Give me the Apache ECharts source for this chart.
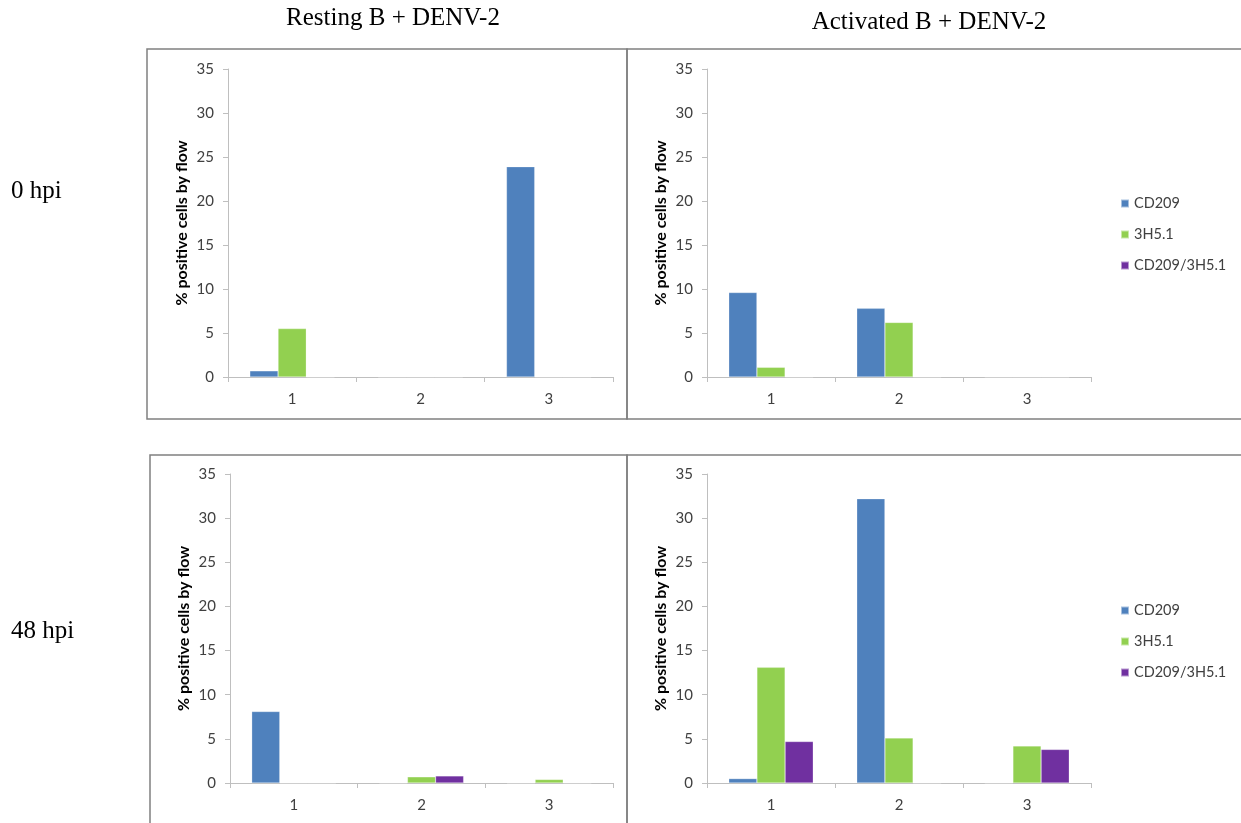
<!DOCTYPE html>
<html>
<head>
<meta charset="utf-8">
<title>CD209 / 3H5.1 flow</title>
<script src="https://cdn.jsdelivr.net/npm/echarts@6/dist/echarts.min.js"></script>
<style>
  html, body { margin: 0; padding: 0; background: #fff; }
  #main { width: 1241px; height: 823px; }
</style>
</head>
<body>
<div id="main"></div>
<script>
// categories and series
var categories = ['1', '2', '3'];
var seriesNames = ['CD209', '3H5.1', 'CD209/3H5.1'];
var seriesColors = ['#4f81bd', '#92d050', '#7030a0'];

// Resting B, 0 hpi
var resting0_CD209 = [0.7, 0, 23.9];
var resting0_3H51 = [5.5, 0, 0];
var resting0_double = [0, 0, 0];
// Activated B, 0 hpi
var activated0_CD209 = [9.6, 7.8, 0];
var activated0_3H51 = [1.1, 6.2, 0];
var activated0_double = [0, 0, 0];
// Resting B, 48 hpi
var resting48_CD209 = [8.1, 0, 0];
var resting48_3H51 = [0, 0.7, 0.4];
var resting48_double = [0, 0.8, 0];
// Activated B, 48 hpi
var activated48_CD209 = [0.5, 32.2, 0];
var activated48_3H51 = [13.1, 5.1, 4.2];
var activated48_double = [4.7, 0, 3.8];

var yMax = 35;
var yStep = 5;
var yTitle = '% positive cells by flow';

var chartFont = 'Lato, "Open Sans", sans-serif';
var axisGray = '#bfbfbf';

var panels = [
    { grid: { left: 228, top: 69, width: 385, height: 308 }, data: [resting0_CD209, resting0_3H51, resting0_double] },
    { grid: { left: 707, top: 69, width: 384, height: 308 }, data: [activated0_CD209, activated0_3H51, activated0_double] },
    { grid: { left: 230, top: 474, width: 383, height: 309 }, data: [resting48_CD209, resting48_3H51, resting48_double] },
    { grid: { left: 707, top: 474, width: 384, height: 309 }, data: [activated48_CD209, activated48_3H51, activated48_double] }
];

var grids = [], xAxes = [], yAxes = [], series = [];

for (var i = 0; i < panels.length; i++) {
    var p = panels[i];
    grids.push(p.grid);

    xAxes.push({
        type: 'category',
        gridIndex: i,
        data: categories,
        axisLine: { lineStyle: { color: axisGray, width: 1 } },
        axisTick: { show: true, length: 5, lineStyle: { color: axisGray } },
        axisLabel: { color: '#404040', fontSize: 15, fontFamily: chartFont, margin: 15 }
    });

    yAxes.push({
        type: 'value',
        gridIndex: i,
        min: 0,
        max: yMax,
        interval: yStep,
        name: yTitle,
        nameLocation: 'middle',
        nameGap: 38,
        nameTextStyle: { color: '#000', fontSize: 16, fontWeight: 'bold', fontFamily: chartFont },
        axisLine: { show: true, lineStyle: { color: axisGray, width: 1 } },
        axisTick: { show: true, length: 5, lineStyle: { color: axisGray } },
        axisLabel: { color: '#404040', fontSize: 15, fontFamily: chartFont, margin: 14 },
        splitLine: { show: false }
    });

    //每个面板三组柱子
    for (var s = 0; s < seriesNames.length; s++) {
        series.push({
            type: 'bar',
            name: seriesNames[s],
            xAxisIndex: i,
            yAxisIndex: i,
            data: p.data[s],
            barGap: '0%',
            barCategoryGap: '34%',
            itemStyle: { color: seriesColors[s], borderColor: 'rgba(255,255,255,0.5)', borderWidth: 0.5 },
            animation: false
        });
    }
}

var legendBase = {
    orient: 'vertical',
    left: 1120,
    padding: 0,
    itemWidth: 8,
    itemHeight: 8,
    itemGap: 16,
    icon: 'rect',
    selectedMode: false,
    data: seriesNames,
    textStyle: { color: '#404040', fontSize: 14.5, lineHeight: 15, fontFamily: chartFont }
};

var serif = '"Liberation Serif", "DejaVu Serif", serif';
var borderColor = '#808080';

var option = {
    backgroundColor: '#fff',
    animation: false,
    grid: grids,
    xAxis: xAxes,
    yAxis: yAxes,
    series: series,
    legend: [
        $extend({ top: 196 }),
        $extend({ top: 603 })
    ],
    graphic: [
        // 面板边框
        { type: 'rect', shape: { x: 147, y: 49, width: 480, height: 370 }, style: { fill: 'none', stroke: borderColor, lineWidth: 1.5 } },
        { type: 'rect', shape: { x: 627, y: 49, width: 620, height: 370 }, style: { fill: 'none', stroke: borderColor, lineWidth: 1.5 } },
        { type: 'rect', shape: { x: 150, y: 455, width: 477, height: 380 }, style: { fill: 'none', stroke: borderColor, lineWidth: 1.5 } },
        { type: 'rect', shape: { x: 627, y: 455, width: 620, height: 380 }, style: { fill: 'none', stroke: borderColor, lineWidth: 1.5 } },
        // 标题
        { type: 'text', x: 393, y: 18, style: { text: 'Resting B + DENV-2', font: '25px ' + serif, fill: '#000', textAlign: 'center', textVerticalAlign: 'middle' } },
        { type: 'text', x: 929, y: 22, style: { text: 'Activated B + DENV-2', font: '25px ' + serif, fill: '#000', textAlign: 'center', textVerticalAlign: 'middle' } },
        { type: 'text', x: 11, y: 191, style: { text: '0 hpi', font: '25px ' + serif, fill: '#000', textAlign: 'left', textVerticalAlign: 'middle' } },
        { type: 'text', x: 11, y: 631, style: { text: '48 hpi', font: '25px ' + serif, fill: '#000', textAlign: 'left', textVerticalAlign: 'middle' } }
    ]
};

function $extend(extra) {
    var o = {};
    for (var k in legendBase) o[k] = legendBase[k];
    for (var k2 in extra) o[k2] = extra[k2];
    return o;
}

var chart = echarts.init(document.getElementById('main'));
chart.setOption(option);
</script>
</body>
</html>
